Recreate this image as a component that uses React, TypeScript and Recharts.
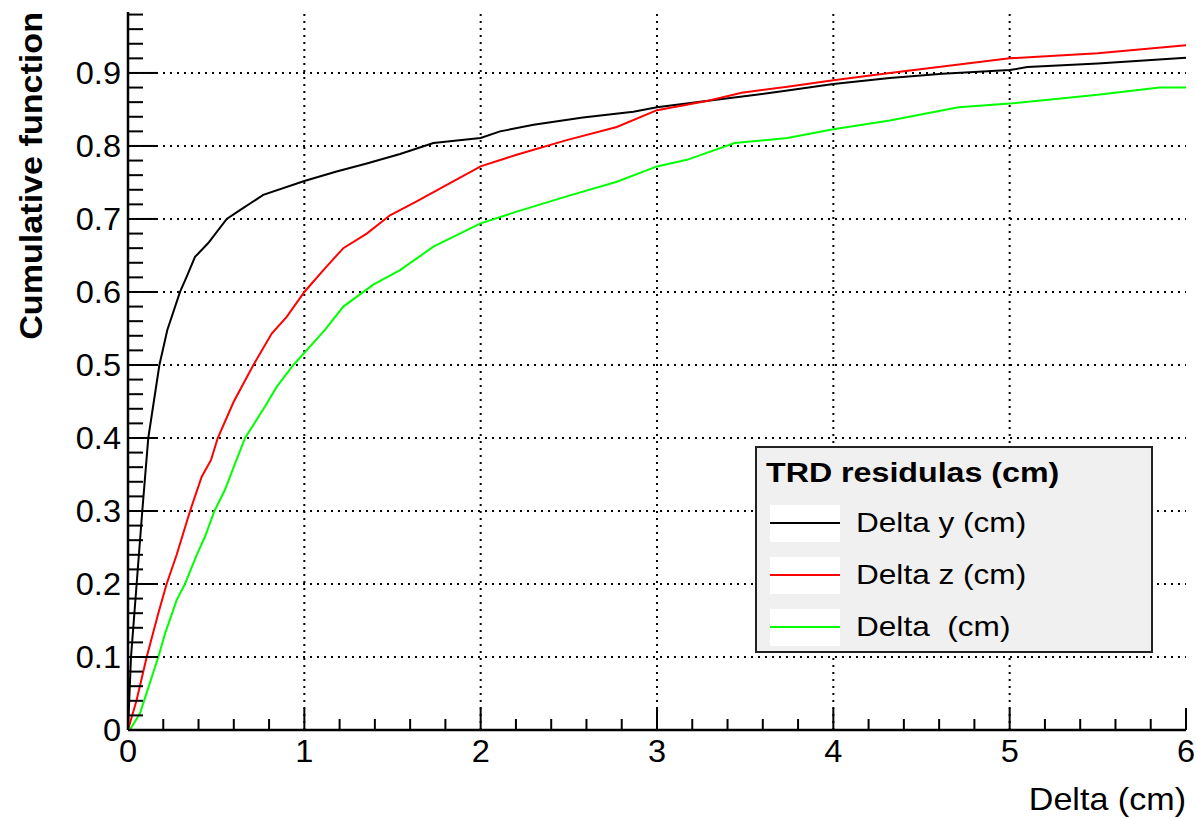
import React from "react";
import { LineChart, Line, XAxis, YAxis, ReferenceLine, Legend } from "recharts";

// ---- data ----
const deltaYX = [0, 0.017, 0.049, 0.081, 0.115, 0.178, 0.223, 0.295, 0.333, 0.38, 0.455, 0.56, 0.635, 0.767, 1.0, 1.183, 1.354, 1.543, 1.732, 2.0, 2.11, 2.3, 2.58, 2.866, 3.0, 3.29, 3.54, 3.74, 4.0, 4.32, 4.62, 5.0, 5.1, 5.5, 6.0];
const deltaYV = [0, 0.1, 0.2, 0.3, 0.4, 0.5, 0.548, 0.6, 0.621, 0.648, 0.667, 0.7, 0.712, 0.733, 0.752, 0.765, 0.776, 0.789, 0.804, 0.811, 0.82, 0.829, 0.839, 0.847, 0.853, 0.862, 0.8695, 0.876, 0.885, 0.893, 0.899, 0.904, 0.908, 0.913, 0.921];

const deltaZX = [0, 0.049, 0.106, 0.172, 0.219, 0.276, 0.352, 0.418, 0.471, 0.509, 0.6, 0.711, 0.815, 0.9, 1.0, 1.108, 1.221, 1.354, 1.486, 1.637, 1.826, 2.0, 2.204, 2.488, 2.772, 3.0, 3.29, 3.48, 3.74, 4.0, 4.32, 4.62, 5.0, 5.5, 6.0];
const deltaZV = [0, 0.041, 0.1, 0.16, 0.2, 0.24, 0.3, 0.347, 0.37, 0.4, 0.45, 0.5, 0.543, 0.566, 0.6, 0.63, 0.66, 0.68, 0.705, 0.724, 0.749, 0.772, 0.788, 0.808, 0.826, 0.849, 0.862, 0.873, 0.881, 0.89, 0.9, 0.909, 0.92, 0.927, 0.938];

const deltaX = [0, 0.01, 0.068, 0.172, 0.21, 0.276, 0.323, 0.39, 0.437, 0.49, 0.55, 0.607, 0.664, 0.777, 0.843, 0.938, 1.117, 1.221, 1.391, 1.543, 1.732, 2.0, 2.204, 2.488, 2.772, 3.0, 3.17, 3.44, 3.74, 4.0, 4.32, 4.71, 5.0, 5.5, 5.85, 6.0];
const deltaV = [0, 0.0, 0.023, 0.1, 0.132, 0.178, 0.2, 0.24, 0.265, 0.3, 0.329, 0.365, 0.4, 0.443, 0.47, 0.5, 0.548, 0.58, 0.61, 0.63, 0.662, 0.694, 0.71, 0.731, 0.751, 0.772, 0.781, 0.804, 0.811, 0.823, 0.835, 0.853, 0.858, 0.87, 0.88, 0.88];

const seriesNames = ["Delta y (cm)", "Delta z (cm)", "Delta  (cm)"];
const seriesColors = ["#000000", "#ff0000", "#00ff00"];
const legendTitle = "TRD residulas (cm)";
const xTitle = "Delta (cm)";
const yTitle = "Cumulative function";

const xTicks = [0, 0.2, 0.4, 0.6, 0.8, 1, 1.2, 1.4, 1.6, 1.8, 2, 2.2, 2.4, 2.6, 2.8, 3, 3.2, 3.4, 3.6, 3.8, 4, 4.2, 4.4, 4.6, 4.8, 5, 5.2, 5.4, 5.6, 5.8, 6];
const xMajor = [0, 1, 2, 3, 4, 5, 6];
const yTicks = [0, 0.02, 0.04, 0.06, 0.08, 0.1, 0.12, 0.14, 0.16, 0.18, 0.2, 0.22, 0.24, 0.26, 0.28, 0.3, 0.32, 0.34, 0.36, 0.38, 0.4, 0.42, 0.44, 0.46, 0.48, 0.5, 0.52, 0.54, 0.56, 0.58, 0.6, 0.62, 0.64, 0.66, 0.68, 0.7, 0.72, 0.74, 0.76, 0.78, 0.8, 0.82, 0.84, 0.86, 0.88, 0.9, 0.92, 0.94, 0.96, 0.98];
const yMajor = [0, 0.1, 0.2, 0.3, 0.4, 0.5, 0.6, 0.7, 0.8, 0.9];
const yLabels = ["0", "0.1", "0.2", "0.3", "0.4", "0.5", "0.6", "0.7", "0.8", "0.9"];
const xGrid = [1, 2, 3, 4, 5];
const yGrid = [0.1, 0.2, 0.3, 0.4, 0.5, 0.6, 0.7, 0.8, 0.9];

const toData = (xs: number[], vs: number[]) => xs.map((x, i) => ({ x, y: vs[i] }));
const dataY = toData(deltaYX, deltaYV);
const dataZ = toData(deltaZX, deltaZV);
const dataD = toData(deltaX, deltaV);

const FONT = "'Liberation Sans', Arial, Helvetica, sans-serif";

const isMajor = (v: number, list: number[]) => list.some((m) => Math.abs(m - v) < 1e-6);

// text with a slight horizontal stretch, like the reference's wide Helvetica rendering
const SText = (props: any) => {
  const { x, y, k = 1, size, anchor = "start", bold = false, rotate = 0, children } = props;
  const tf = `translate(${x} ${y})${rotate ? ` rotate(${rotate})` : ""} scale(${k} 1)`;
  return (
    <text
      x={0}
      y={0}
      transform={tf}
      textAnchor={anchor}
      fontSize={size}
      fontWeight={bold ? "bold" : "normal"}
      fontFamily={FONT}
      fill="#000"
      style={{ whiteSpace: "pre" }}
    >
      {children}
    </text>
  );
};

const XTick = (props: any) => {
  const { x, y, payload } = props;
  const v = payload.value;
  const major = isMajor(v, xMajor);
  return (
    <g>
      <line x1={x} x2={x} y1={y} y2={y - (major ? 22 : 11)} stroke="#000" strokeWidth={2} />
      {major && (
        <SText x={x} y={y + 32} k={1.05} size={31} anchor="middle">
          {String(v)}
        </SText>
      )}
    </g>
  );
};

const YTick = (props: any) => {
  const { x, y, payload } = props;
  const v = payload.value;
  const idx = yMajor.findIndex((m) => Math.abs(m - v) < 1e-6);
  const major = idx >= 0;
  return (
    <g>
      <line x1={x} x2={x + (major ? 30 : 15)} y1={y} y2={y} stroke="#000" strokeWidth={2} />
      {major && (
        <SText x={x - 7} y={y + 11} k={1.05} size={31} anchor="end">
          {yLabels[idx]}
        </SText>
      )}
    </g>
  );
};

const LegendBox = (props: any) => {
  const raw = props.payload || [];
  const payload = seriesNames
    .map((n) => raw.find((p: any) => p.value === n))
    .filter((p: any) => p);
  return (
    <svg width={398} height={208} style={{ display: "block" }}>
      <rect x={1} y={1} width={396} height={205} fill="#f0f0f0" stroke="#222" strokeWidth={2} />
      <SText x={11} y={36} k={1.15} size={28} bold>
        {legendTitle}
      </SText>
      {payload.map((p: any, i: number) => {
        const cy = 77 + i * 52;
        return (
          <g key={i}>
            <rect x={15} y={cy - 18} width={70} height={37} fill="#ffffff" />
            <line x1={15} x2={85} y1={cy} y2={cy} stroke={p.color} strokeWidth={2} />
            <SText x={101} y={cy + 9} k={1.17} size={27}>
              {p.value}
            </SText>
          </g>
        );
      })}
    </svg>
  );
};

export default function App() {
  return (
    <div style={{ position: "absolute", left: 0, top: 0, width: 1196, height: 818, background: "#fff" }}>
      <LineChart width={1196} height={818} margin={{ top: 12, right: 10, bottom: 0, left: 0 }}>
        <XAxis
          dataKey="x"
          type="number"
          domain={[0, 6]}
          ticks={xTicks}
          interval={0}
          height={88}
          tickSize={0}
          tickMargin={0}
          tickLine={false}
          tick={<XTick />}
          axisLine={{ stroke: "#000", strokeWidth: 2.5 }}
          allowDataOverflow
          label={{
            content: (p: any) => {
              const vb = p.viewBox || {};
              return (
                <SText x={vb.x + vb.width} y={vb.y + 80} k={1.1} size={31} anchor="end">
                  {xTitle}
                </SText>
              );
            },
          }}
        />
        <XAxis xAxisId="top" orientation="top" type="number" domain={[0, 6]} height={0} tick={false} tickLine={false} axisLine={{ stroke: "#000", strokeWidth: 2.5 }} />
        <YAxis
          type="number"
          domain={[0, 0.9835]}
          ticks={yTicks}
          interval={0}
          width={128}
          tickSize={0}
          tickMargin={0}
          tickLine={false}
          tick={<YTick />}
          axisLine={{ stroke: "#000", strokeWidth: 2.5 }}
          allowDataOverflow
          label={{
            content: (p: any) => {
              const vb = p.viewBox || {};
              return (
                <SText x={42} y={vb.y} rotate={-90} k={1.066} size={32} anchor="end" bold>
                  {yTitle}
                </SText>
              );
            },
          }}
        />
        <YAxis yAxisId="right" orientation="right" type="number" domain={[0, 0.9835]} width={0} tick={false} tickLine={false} axisLine={{ stroke: "#000", strokeWidth: 2.5 }} />
        {xGrid.map((v) => (
          <ReferenceLine key={"gx" + v} x={v} stroke="#000" strokeWidth={2} strokeDasharray="2 5" />
        ))}
        {yGrid.map((v) => (
          <ReferenceLine key={"gy" + v} y={v} stroke="#000" strokeWidth={2} strokeDasharray="2 5" />
        ))}
        <Line data={dataY} dataKey="y" name={seriesNames[0]} stroke={seriesColors[0]} strokeWidth={2} dot={false} type="linear" isAnimationActive={false} />
        <Line data={dataZ} dataKey="y" name={seriesNames[1]} stroke={seriesColors[1]} strokeWidth={2} dot={false} type="linear" isAnimationActive={false} />
        <Line data={dataD} dataKey="y" name={seriesNames[2]} stroke={seriesColors[2]} strokeWidth={2} dot={false} type="linear" isAnimationActive={false} />
        <Legend
          layout="horizontal"
          verticalAlign="middle"
          align="center"
          content={(p: any) => <LegendBox payload={p.payload} />}
          wrapperStyle={{ position: "absolute", left: 755, top: 446, width: 398, height: 208, margin: 0, padding: 0 }}
        />
      </LineChart>
    </div>
  );
}
